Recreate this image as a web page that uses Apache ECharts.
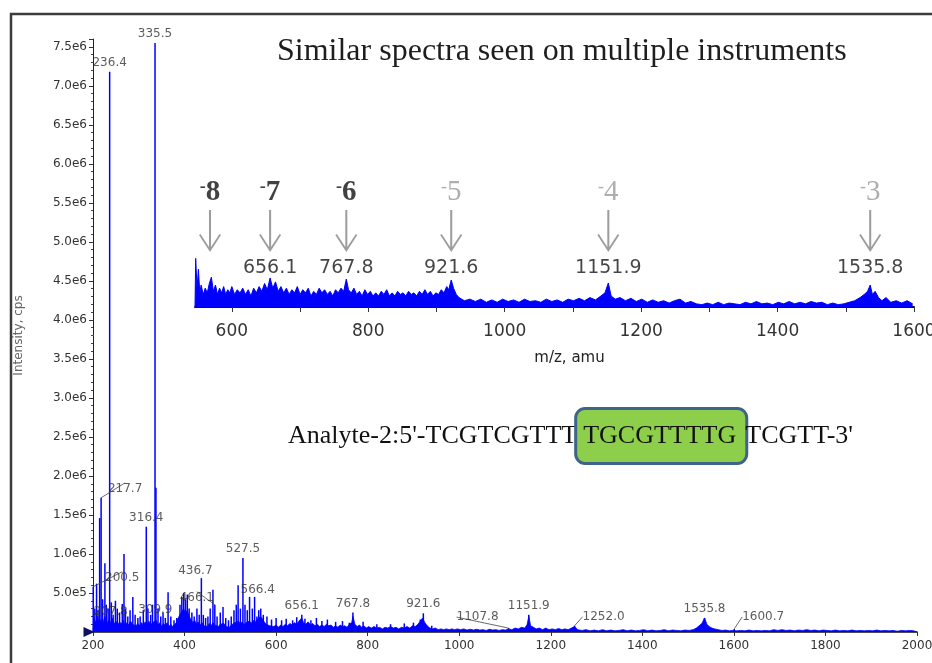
<!DOCTYPE html>
<html>
<head>
<meta charset="utf-8">
<title>Similar spectra seen on multiple instruments</title>
<script src="https://cdn.jsdelivr.net/npm/echarts@6.0.0/dist/echarts.min.js"></script>
<style>
    html, body { margin: 0; padding: 0; background: #fff; }
    #spectrum { width: 932px; height: 663px; }
</style>
</head>
<body>
<div id="spectrum"></div>
<script>
// main spectrum, [m/z, intensity in 1e6 cps]
const mainPeaks = [
    [200.5,0.58],[204,0.3],[207.8,0.62],[211,0.28],[214.5,1.46],[217.7,1.72],[221,0.42],[226,0.88],[229,0.35],[233,0.3],
    [236.4,7.18],[240,0.38],[244,0.22],[249,0.4],[253,0.3],[258,0.25],[264,0.36],[267.7,1.0],[271,0.3],[276,0.2],
    [281,0.28],[287,0.45],[292,0.22],[298,0.18],[303,0.2],[309.9,0.28],[316.4,1.35],[320,0.3],[326,0.22],[330,0.35],
    [335.5,7.55],[337.5,1.85],[342,0.3],[348,0.2],[353,0.25],[358,0.18],[364,0.51],[370,0.2],[377,0.15],[383,0.18],
    [390,0.35],[394,0.45],[398,0.5],[402,0.42],[406,0.48],[410,0.3],[416,0.25],[421,0.2],[427,0.3],[432,0.22],
    [436.7,0.69],[441,0.22],[446,0.18],[451,0.2],[456,0.3],[462,0.54],[466.1,0.35],[471,0.2],[478,0.25],[484,0.32],
    [490,0.18],[496,0.15],[502,0.2],[508,0.28],[513,0.35],[517,0.6],[522,0.3],[527.5,0.95],[532,0.35],[537,0.28],
    [542,0.45],[548,0.3],[553,0.45],[558,0.2],[562,0.28],[566.4,0.3],[572,0.22],[580,0.2],[590,0.16],[600,0.18],
    [612,0.15],[622,0.17],[636,0.15],[645,0.19],[656.1,0.22],[663,0.17],[676,0.15],[688,0.18],[700,0.14],[712,0.16],
    [730,0.13],[745,0.14],[760,0.12],[767.8,0.25],[790,0.13],[820,0.1],[850,0.1],[880,0.11],[900,0.12],[915,0.16],
    [921.6,0.24],[940,0.08],[1107.8,0.05],[1151.9,0.22],[1252,0.08],[1535.8,0.18],[1600.7,0.04]
];

// chemical noise under the sticks
const mainFloor = [
    [200,0],[202,0.18],[206,0.12],[210,0.2],[214,0.1],[218,0.16],[222,0.12],[226,0.2],[230,0.1],[234,0.15],[238,0.12],
    [242,0.18],[246,0.1],[250,0.14],[254,0.09],[258,0.13],[262,0.1],[266,0.15],[270,0.08],[274,0.12],[278,0.09],
    [282,0.14],[286,0.1],[290,0.12],[294,0.08],[298,0.11],[302,0.08],[306,0.12],[310,0.09],[314,0.13],[318,0.1],
    [322,0.14],[326,0.09],[330,0.12],[334,0.1],[338,0.15],[342,0.09],[346,0.12],[350,0.07],[354,0.11],[358,0.08],
    [362,0.12],[366,0.07],[370,0.1],[374,0.07],[378,0.09],[382,0.12],[386,0.18],[390,0.22],[394,0.26],[398,0.3],
    [402,0.24],[406,0.28],[410,0.2],[414,0.16],[418,0.12],[422,0.15],[426,0.1],[430,0.13],[434,0.09],[438,0.12],
    [442,0.08],[446,0.1],[450,0.07],[454,0.11],[458,0.08],[462,0.12],[466,0.09],[470,0.11],[474,0.07],[478,0.1],
    [482,0.08],[486,0.11],[490,0.07],[494,0.09],[498,0.06],[502,0.09],[506,0.08],[510,0.12],[514,0.1],[518,0.14],
    [522,0.1],[526,0.13],[530,0.09],[534,0.12],[538,0.1],[542,0.14],[546,0.11],[550,0.15],[554,0.12],[558,0.16],
    [562,0.18],[566,0.2],[570,0.17],[574,0.13],[578,0.1],[582,0.12],[586,0.08],[590,0.1],[595,0.07],[600,0.09],
    [605,0.06],[610,0.09],[615,0.07],[620,0.1],[625,0.08],[630,0.11],[635,0.09],[640,0.12],[645,0.1],[650,0.14],
    [656,0.18],[660,0.12],[665,0.1],[670,0.13],[675,0.09],[680,0.11],[685,0.08],[690,0.1],[695,0.07],[700,0.09],
    [705,0.07],[710,0.1],[715,0.08],[720,0.09],[725,0.06],[730,0.08],[735,0.06],[740,0.09],[745,0.07],[750,0.08],
    [755,0.06],[760,0.1],[765,0.12],[768,0.2],[772,0.1],[777,0.07],[782,0.09],[787,0.06],[792,0.08],[797,0.05],
    [802,0.07],[808,0.05],[814,0.07],[820,0.05],[826,0.06],[832,0.04],[838,0.06],[844,0.05],[850,0.07],[856,0.05],
    [862,0.06],[868,0.04],[874,0.06],[880,0.05],[886,0.07],[892,0.05],[898,0.08],[904,0.07],[910,0.1],[915,0.14],
    [920,0.18],[925,0.12],[930,0.08],[936,0.05],[942,0.04],[948,0.05],[954,0.03],[960,0.04],[966,0.03],[972,0.04],
    [978,0.03],[984,0.04],[990,0.03],[996,0.04],[1003,0.03],[1010,0.04],[1017,0.025],[1024,0.035],[1031,0.025],
    [1038,0.035],[1045,0.025],[1052,0.03],[1059,0.02],[1066,0.035],[1073,0.025],[1080,0.03],[1087,0.02],[1094,0.03],
    [1101,0.025],[1108,0.04],[1115,0.03],[1122,0.05],[1129,0.04],[1136,0.06],[1143,0.05],[1148,0.09],[1152,0.2],
    [1156,0.08],[1162,0.06],[1168,0.04],[1175,0.05],[1182,0.03],[1189,0.05],[1196,0.03],[1203,0.04],[1210,0.03],
    [1217,0.045],[1224,0.03],[1231,0.04],[1238,0.03],[1245,0.05],[1252,0.07],[1259,0.03],[1268,0.02],[1277,0.03],
    [1286,0.015],[1295,0.025],[1304,0.015],[1313,0.03],[1322,0.015],[1331,0.025],[1340,0.015],[1349,0.02],[1358,0.03],
    [1367,0.015],[1376,0.025],[1385,0.015],[1394,0.02],[1403,0.03],[1412,0.015],[1421,0.025],[1430,0.015],[1439,0.02],
    [1448,0.03],[1457,0.015],[1466,0.025],[1475,0.02],[1484,0.015],[1493,0.025],[1502,0.02],[1511,0.03],[1518,0.05],
    [1524,0.08],[1530,0.11],[1536,0.18],[1541,0.1],[1546,0.07],[1552,0.05],[1558,0.04],[1566,0.03],[1574,0.02],
    [1582,0.025],[1590,0.015],[1598,0.02],[1606,0.015],[1615,0.02],[1624,0.015],[1633,0.025],[1642,0.015],[1651,0.02],
    [1660,0.015],[1669,0.02],[1678,0.015],[1687,0.03],[1696,0.02],[1705,0.03],[1714,0.02],[1723,0.025],[1732,0.015],
    [1741,0.025],[1750,0.02],[1759,0.03],[1768,0.02],[1777,0.025],[1786,0.015],[1795,0.025],[1804,0.02],[1813,0.015],
    [1822,0.025],[1831,0.015],[1840,0.02],[1849,0.015],[1858,0.025],[1867,0.015],[1876,0.02],[1885,0.015],[1894,0.02],
    [1903,0.015],[1912,0.025],[1921,0.015],[1930,0.02],[1939,0.015],[1948,0.02],[1957,0.01],[1966,0.02],[1975,0.015],
    [1984,0.02],[1993,0.015],[2000,0]
];

const mainTags = ['236.4','335.5','217.7','316.4','200.5','207.8','309.9','436.7','466.1','527.5',
    '566.4','656.1','767.8','921.6','1107.8','1151.9','1252.0','1535.8','1600.7'];

// zoomed inset, [m/z, relative intensity]
const insetTrace = [
    [546,0],[547,31],[549,12],[551,24],[553,9],[555,14],[558,8],[561,12],[564,9],[567,15],[570,19],[573,10],
    [576,14],[579,8],[582,12],[585,9],[588,13],[591,8],[594,11],[597,9],[600,13],[604,8],[608,11],[612,9],
    [616,12],[620,8],[624,11],[628,7],[632,12],[636,9],[640,13],[644,10],[648,15],[652,11],[656.1,18.5],[660,12],
    [664,16],[668,10],[672,13],[676,9],[680,12],[684,8],[688,11],[692,9],[696,13],[700,8],[704,11],[708,9],
    [712,12],[716,7],[720,10],[724,8],[728,12],[732,9],[736,11],[740,8],[744,10],[748,7],[752,11],[756,9],
    [760,12],[764,10],[767.8,17.8],[771,11],[775,9],[779,12],[783,8],[787,10],[791,7],[795,11],[799,8],[803,10],
    [807,7],[811,9],[815,7],[819,10],[823,8],[827,11],[831,7],[835,9],[839,7],[843,10],[847,8],[851,9],
    [855,7],[859,10],[863,8],[867,9],[871,7],[875,10],[879,8],[883,11],[887,8],[891,10],[895,7],[899,9],
    [903,8],[907,11],[911,9],[915,13],[918,11],[921.6,17.2],[925,12],[929,8],[933,6],[937,5],[941,4],[949,5],
    [957,3.5],[965,5],[973,3],[981,4.5],[989,3],[997,5],[1005,3.5],[1013,4.5],[1021,3],[1029,5],[1037,3.5],[1045,4],
    [1053,3],[1061,5],[1069,3.5],[1077,4.5],[1085,3],[1093,5],[1101,4],[1109,5.5],[1117,4],[1125,6],[1133,4.5],[1141,7],
    [1147,9],[1151.9,15.3],[1156,7],[1162,5],[1169,6],[1177,4],[1185,5.5],[1193,3.5],[1201,5],[1209,3],[1217,4.5],[1225,3],
    [1233,4],[1241,2.5],[1249,4],[1257,5],[1265,2.5],[1273,3.5],[1281,2],[1289,1.5],[1297,2.5],[1305,1.5],[1313,3],[1321,1.5],
    [1329,2.5],[1337,2],[1345,1.5],[1353,3],[1361,2],[1369,3.5],[1377,2],[1385,2.5],[1393,1.5],[1401,3],[1409,2],[1417,3.5],
    [1425,2],[1433,3],[1441,2],[1449,3.5],[1457,2.5],[1465,3],[1473,1.5],[1481,2.5],[1489,1.5],[1497,2],[1505,3],[1513,4],
    [1521,6],[1527,8],[1532,10],[1535.8,14],[1539,8],[1543,10],[1548,6],[1553,4],[1559,6],[1566,3],[1574,4],[1582,2.5],
    [1590,4],[1598,2]
];

const chargeStates = ['8', '7', '6', '5', '4', '3'];
const chargeMz = [568, 656.1, 767.8, 921.6, 1151.9, 1535.8];
const insetTags = ['656.1', '767.8', '921.6', '1151.9', '1535.8'];
const insetTicks = [600, 800, 1000, 1200, 1400, 1600];
const insetMinorTicks = [600, 700, 800, 900, 1000, 1100, 1200, 1300, 1400, 1500, 1600];

// sequence split around the highlighted stretch
const seqParts = ["Analyte-2:5'-TCGTCGTTT", 'TGCGTTTTG', "TCGTT-3'"];

// label nudges (px) for the crowded main-spectrum tags
const tagShift = {
    '217.7': [24, 0], '200.5': [29, 0], '207.8': [14, 37], '309.9': [12, 9], '436.7': [-6, 2],
    '466.1': [-18, 2], '566.4': [-3, -10], '1107.8': [-31, -2], '1252.0': [29, 0], '1600.7': [29, -3]
};
const leaderTags = ['217.7', '200.5', '466.1', '1107.8', '1252.0', '1600.7'];

const sans = 'DejaVu Sans';
const serif = 'Liberation Serif';
const ARROW_LEVEL = 48.4;
const TAG_LEVEL = 25;
const arrowPath = 'path://M10,0 L12,0 L12,37 L20.3,24 L21.8,25 L11,42 L0.2,25 L1.7,24 L10,37 Z';

function expLabel(v) {
    if (v === 0) return '';
    return (v * 1e6).toExponential(1).replace('+', '');
}

let chart = echarts.init(document.getElementById('spectrum'));

let tagData = mainTags.map((t) => {
    let mz = parseFloat(t);
    let peak = mainPeaks.find(p => p[0] === mz);
    return {
        name: t,
        value: [mz, peak[1]],
        labelLine: { show: leaderTags.indexOf(t) > -1 }
    };
});

let option = {
    animation: false,
    backgroundColor: '#fff',
    title: [
        {
            text: 'Similar spectra seen on multiple instruments',
            left: 277,
            top: 36,
            padding: 0,
            textStyle: { fontFamily: serif, fontSize: 32, fontWeight: 'normal', color: '#1e1e1e' }
        },
        {
            // sequence line, the middle piece carries the green box
            text: '{s|' + seqParts[0] + '}{h|' + seqParts[1] + '}{s|' + seqParts[2] + '}',
            left: 288,
            top: 410,
            padding: 0,
            textStyle: {
                fontWeight: 'normal',
                rich: {
                    s: { fontFamily: serif, fontSize: 26, fontWeight: 'normal', color: '#111' },
                    h: {
                        fontFamily: serif, fontSize: 26, fontWeight: 'normal', color: '#111',
                        backgroundColor: '#8dcf4b', borderColor: '#3f6389', borderWidth: 3,
                        borderRadius: 8, padding: [13, 9, 13, 6]
                    }
                }
            }
        }
    ],
    grid: [
        { left: 93, right: 15, top: 39, bottom: 31, containLabel: false, outerBoundsMode: 'none' },
        { left: 195, right: 18, top: 150, bottom: 356, containLabel: false, outerBoundsMode: 'none' }
    ],
    xAxis: [
        {
            type: 'value', gridIndex: 0, min: 200, max: 2000, interval: 200,
            name: 'm/z, amu', nameLocation: 'middle', nameGap: 31,
            nameTextStyle: { fontFamily: sans, fontSize: 12, color: '#333' },
            axisLine: { lineStyle: { color: '#111', width: 1.5 } },
            axisTick: { length: 4, lineStyle: { color: '#333' } },
            axisLabel: { formatter: v => String(v), fontFamily: sans, fontSize: 12, color: '#333', margin: 8 },
            splitLine: { show: false }
        },
        {
            type: 'value', gridIndex: 1, min: 546, max: 1600,
            name: 'm/z, amu', nameLocation: 'middle', nameGap: 44,
            nameTextStyle: { fontFamily: sans, fontSize: 15, color: '#222', padding: [0, 0, 0, 30] },
            axisLine: { lineStyle: { color: '#111', width: 2 } },
            axisTick: { customValues: insetMinorTicks, length: 5, lineStyle: { color: '#333' } },
            axisLabel: { customValues: insetTicks, formatter: v => String(v), fontFamily: sans, fontSize: 17, color: '#333', margin: 16 },
            splitLine: { show: false }
        }
    ],
    yAxis: [
        {
            type: 'value', gridIndex: 0, min: 0, max: 7.6, interval: 0.5,
            name: 'Intensity, cps', nameLocation: 'middle', nameGap: 68,
            nameTextStyle: { fontFamily: sans, fontSize: 12, color: '#666' },
            axisLine: { show: true, lineStyle: { color: '#222' } },
            axisTick: { show: true, length: 4, lineStyle: { color: '#333' } },
            minorTick: { show: true, splitNumber: 5, length: 2, lineStyle: { color: '#444' } },
            axisLabel: { formatter: expLabel, showMaxLabel: false, fontFamily: sans, fontSize: 12, color: '#333', margin: 6 },
            splitLine: { show: false }
        },
        { type: 'value', gridIndex: 1, min: 0, max: 100, show: false }
    ],
    series: [
        {
            name: 'noise',
            type: 'line',
            xAxisIndex: 0, yAxisIndex: 0,
            data: mainFloor,
            symbol: 'none',
            lineStyle: { color: '#0000ff', width: 0.8 },
            areaStyle: { color: '#0000ff', opacity: 1 },
            silent: true,
            z: 2
        },
        {
            name: 'peaks',
            type: 'bar',
            xAxisIndex: 0, yAxisIndex: 0,
            data: mainPeaks,
            barWidth: 1.5,
            itemStyle: { color: '#0000ff' },
            z: 3,
            markPoint: {
                symbol: 'triangle',
                symbolSize: [10, 11],
                symbolRotate: -90,
                symbolOffset: [-4, 0],
                itemStyle: { color: '#101060' },
                label: { show: false },
                data: [{ coord: [200, 0] }]
            }
        },
        {
            name: 'tags',
            type: 'scatter',
            xAxisIndex: 0, yAxisIndex: 0,
            data: tagData,
            symbolSize: 0,
            label: {
                show: true, position: 'top', distance: 3,
                formatter: p => p.name,
                fontFamily: sans, fontSize: 12, color: '#333'
            },
            labelLine: { show: false, lineStyle: { color: '#444', width: 0.8 } },
            labelLayout: (p) => {
                let s = tagShift[mainTags[p.dataIndex]] || [0, 0];
                return { dx: s[0], dy: s[1] };
            },
            z: 4
        },
        {
            name: 'inset',
            type: 'line',
            xAxisIndex: 1, yAxisIndex: 1,
            data: insetTrace,
            symbol: 'none',
            lineStyle: { color: '#0000ff', width: 1 },
            areaStyle: { color: '#0000ff', opacity: 1 },
            silent: true
        },
        {
            name: 'charge',
            type: 'scatter',
            xAxisIndex: 1, yAxisIndex: 1,
            data: chargeMz.map(m => [m, ARROW_LEVEL]),
            symbol: arrowPath,
            symbolSize: [22, 42],
            symbolKeepAspect: false,
            itemStyle: { color: '#858585' },
            label: {
                show: true, position: 'top', distance: 3,
                formatter: (p) => {
                    let k = p.dataIndex < 3 ? 'k' : 'g';
                    return '{m' + k + '|-}{d' + k + '|' + chargeStates[p.dataIndex] + '}';
                },
                rich: {
                    mk: { fontFamily: serif, fontSize: 18, fontWeight: 'bold', color: '#111', verticalAlign: 'top' },
                    dk: { fontFamily: serif, fontSize: 29, fontWeight: 'bold', color: '#111' },
                    mg: { fontFamily: serif, fontSize: 18, color: '#9a9a9a', verticalAlign: 'top' },
                    dg: { fontFamily: serif, fontSize: 29, color: '#9a9a9a' }
                }
            }
        },
        {
            name: 'insetTags',
            type: 'scatter',
            xAxisIndex: 1, yAxisIndex: 1,
            data: insetTags.map(t => [parseFloat(t), TAG_LEVEL]),
            symbolSize: 0,
            label: {
                show: true, position: [0, 0], align: 'center', verticalAlign: 'middle',
                formatter: p => insetTags[p.dataIndex],
                fontFamily: sans, fontSize: 19, color: '#161616'
            }
        }
    ],
    graphic: [
        {
            type: 'rect', silent: true, z: 100,
            shape: { x: 11, y: 14, width: 1000, height: 700 },
            style: { fill: 'none', stroke: '#3c3c3c', lineWidth: 2.5 }
        }
    ]
};

chart.setOption(option);
</script>
</body>
</html>
